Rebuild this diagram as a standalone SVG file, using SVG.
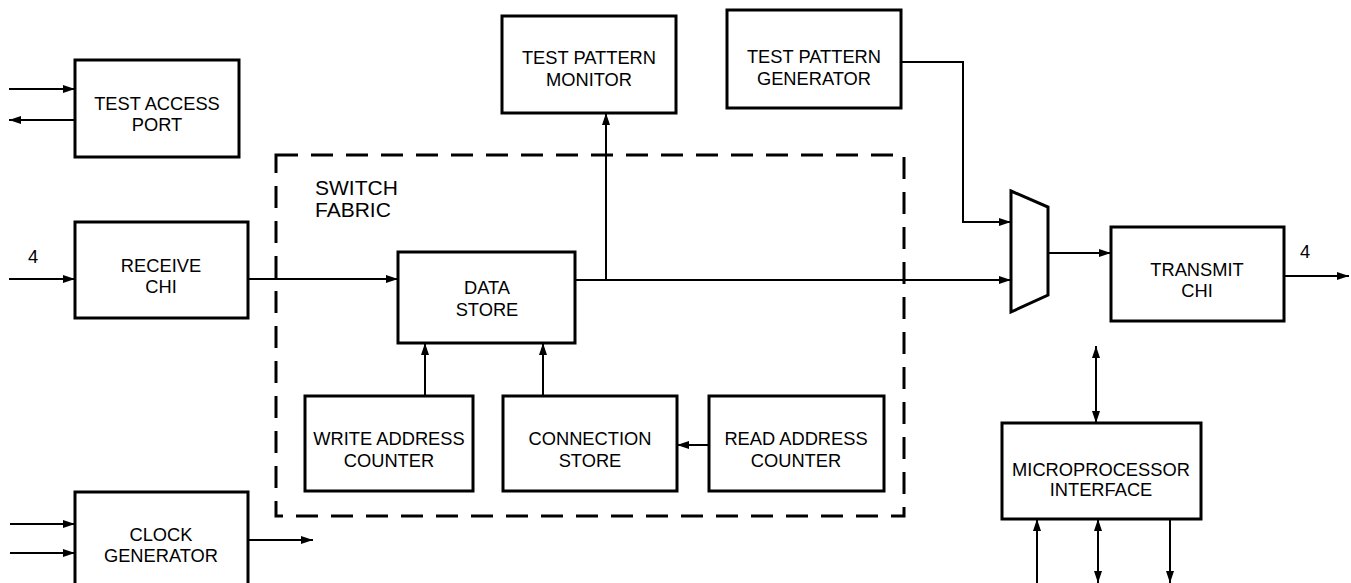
<svg xmlns="http://www.w3.org/2000/svg" width="1351" height="583" viewBox="0 0 1351 583">
<style>
.box{fill:#fff;stroke:#000;stroke-width:3}
.t{font-family:"Liberation Sans",Arial,sans-serif;font-size:18.3px;fill:#000;text-anchor:middle}
.big{font-family:"Liberation Sans",Arial,sans-serif;font-size:21px;fill:#000}
.w{fill:none;stroke:#000;stroke-width:2}
</style>
<defs>
<marker id="a" viewBox="0 0 12 8" refX="12" refY="4" markerWidth="12" markerHeight="8" markerUnits="userSpaceOnUse" orient="auto-start-reverse"><path d="M0,0L12,4L0,8z" fill="#000"/></marker>
</defs>
<rect width="1351" height="583" fill="#fff"/>
<g id="switch-fabric">
<rect x="276" y="155" width="628" height="361" fill="none" stroke="#000" stroke-width="3" stroke-dasharray="22 13"/>
<text class="big" x="315" y="195">SWITCH</text>
<text class="big" x="315" y="217">FABRIC</text>
</g>
<g id="tap"><rect class="box" x="75" y="60" width="164" height="97"/><text class="t" x="157" y="110">TEST ACCESS</text><text class="t" x="157" y="131">PORT</text></g>
<g id="receive"><rect class="box" x="75" y="222" width="173" height="96"/><text class="t" x="161" y="272">RECEIVE</text><text class="t" x="161" y="293">CHI</text></g>
<g id="clock"><rect class="box" x="75" y="492" width="173" height="100"/><text class="t" x="161" y="541">CLOCK</text><text class="t" x="161" y="562">GENERATOR</text></g>
<g id="datastore"><rect class="box" x="398" y="252" width="177" height="91"/><text class="t" x="487" y="294">DATA</text><text class="t" x="487" y="316">STORE</text></g>
<g id="write"><rect class="box" x="305" y="396" width="168" height="95"/><text class="t" x="389" y="445">WRITE ADDRESS</text><text class="t" x="389" y="467">COUNTER</text></g>
<g id="connstore"><rect class="box" x="503" y="396" width="174" height="95"/><text class="t" x="590" y="445">CONNECTION</text><text class="t" x="590" y="467">STORE</text></g>
<g id="read"><rect class="box" x="709" y="396" width="175" height="95"/><text class="t" x="796" y="445">READ ADDRESS</text><text class="t" x="796" y="467">COUNTER</text></g>
<g id="tpm"><rect class="box" x="502" y="16" width="174" height="97"/><text class="t" x="589" y="64">TEST PATTERN</text><text class="t" x="589" y="86">MONITOR</text></g>
<g id="tpg"><rect class="box" x="727" y="10" width="174" height="98"/><text class="t" x="814" y="63">TEST PATTERN</text><text class="t" x="814" y="85">GENERATOR</text></g>
<g id="mux"><path d="M1011,191L1048,207L1048,295L1011,312z" fill="#fff" stroke="#000" stroke-width="3"/></g>
<g id="transmit"><rect class="box" x="1111" y="227" width="173" height="94"/><text class="t" x="1197" y="276">TRANSMIT</text><text class="t" x="1197" y="297">CHI</text></g>
<g id="mpi"><rect class="box" x="1002" y="423" width="199" height="96"/><text class="t" x="1101" y="476">MICROPROCESSOR</text><text class="t" x="1101" y="496">INTERFACE</text></g>
<g id="connectors">
<path class="w" d="M9,89H75" marker-end="url(#a)"/>
<path class="w" d="M75,120H9" marker-end="url(#a)"/>
<path class="w" d="M9,279H75" marker-end="url(#a)"/>
<path class="w" d="M248,279H398" marker-end="url(#a)"/>
<path class="w" d="M575,280H1011" marker-end="url(#a)"/>
<path class="w" d="M606,280V113" marker-end="url(#a)"/>
<path class="w" d="M901,62H963V222H1011" marker-end="url(#a)"/>
<path class="w" d="M1048,253H1111" marker-end="url(#a)"/>
<path class="w" d="M1284,276H1349" marker-end="url(#a)"/>
<path class="w" d="M425,396V343" marker-end="url(#a)"/>
<path class="w" d="M543,396V343" marker-end="url(#a)"/>
<path class="w" d="M709,445H677" marker-end="url(#a)"/>
<path class="w" d="M10,524H75" marker-end="url(#a)"/>
<path class="w" d="M10,553H75" marker-end="url(#a)"/>
<path class="w" d="M248,540H313" marker-end="url(#a)"/>
<path class="w" d="M1096,346V423" marker-start="url(#a)" marker-end="url(#a)"/>
<path class="w" d="M1037,583V519" marker-end="url(#a)"/>
<path class="w" d="M1098,583V519" marker-start="url(#a)" marker-end="url(#a)"/>
<path class="w" d="M1170,519V583" marker-end="url(#a)"/>
</g>
<g id="labels">
<text class="t" x="33" y="263">4</text>
<text class="t" x="1305" y="258">4</text>
</g>
</svg>
